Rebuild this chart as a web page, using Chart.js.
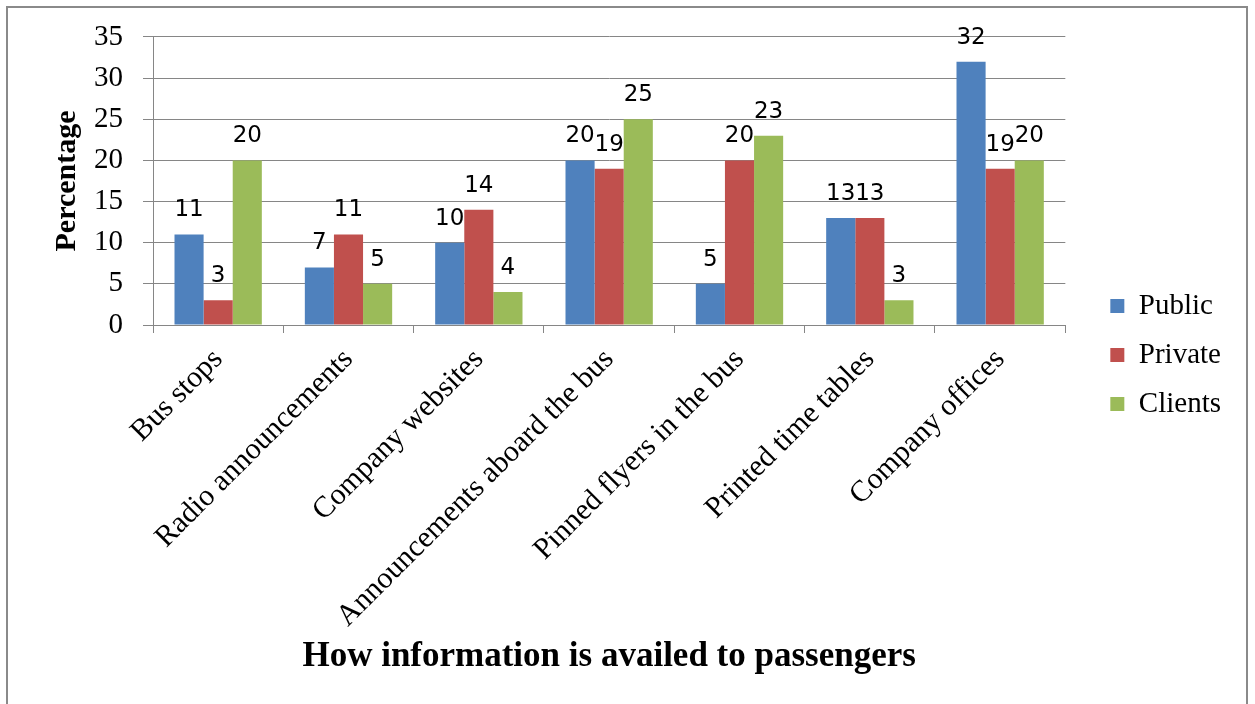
<!DOCTYPE html>
<html>
<head>
<meta charset="utf-8">
<script src="https://cdn.jsdelivr.net/npm/chart.js@4"></script>
<style>
    body { margin: 0; background: #fff; }
    #frame {
        position: absolute; left: 6px; top: 6px;
        width: 1238px; height: 720px;
        border: 2px solid #8a8a8a; background: #fff;
    }
    #chart-box { position: relative; width: 1238px; height: 690px; }
</style>
</head>
<body>
<div id="frame">
    <div id="chart-box"><canvas id="myChart"></canvas></div>
</div>
<script>
// categories and values
const categories = [
    'Bus stops',
    'Radio announcements',
    'Company websites',
    'Announcements aboard the bus',
    'Pinned flyers in the bus',
    'Printed time tables',
    'Company offices'
];
const publicValues = [11, 7, 10, 20, 5, 13, 32];
const privateValues = [3, 11, 14, 19, 20, 13, 19];
const clientValues = [20, 5, 4, 25, 23, 3, 20];
const yTicks = [0, 5, 10, 15, 20, 25, 30, 35];

const gridColor = '#868686';
const serif = "'Liberation Serif', 'Times New Roman', serif";

// values printed above each bar
const barLabels = {
    id: 'barLabels',
    afterDatasetsDraw(chart) {
        const ctx = chart.ctx;
        ctx.save();
        ctx.font = "23px 'DejaVu Sans', sans-serif";
        ctx.fillStyle = '#000';
        ctx.textAlign = 'center';
        ctx.textBaseline = 'alphabetic';
        chart.data.datasets.forEach((ds, i) => {
            const meta = chart.getDatasetMeta(i);
            meta.data.forEach((bar, j) => {
                ctx.fillText(ds.data[j], bar.x, bar.y - 18);
            });
        });
        ctx.restore();
    }
};

const data = {
    labels: categories,
    datasets: [
        { label: 'Public', data: publicValues, backgroundColor: '#4F81BD' },
        { label: 'Private', data: privateValues, backgroundColor: '#C0504D' },
        { label: 'Clients', data: clientValues, backgroundColor: '#9BBB59' }
    ]
};

const config = {
    type: 'bar',
    data: data,
    plugins: [barLabels],
    options: {
        responsive: true,
        maintainAspectRatio: false,
        animation: false,
        layout: { padding: { top: 7, left: 32, right: 15, bottom: 3 } },
        datasets: {
            bar: { categoryPercentage: 0.67, barPercentage: 1.0 }
        },
        plugins: {
            tooltip: { enabled: false },
            legend: {
                position: 'right',
                labels: {
                    boxWidth: 14,
                    boxHeight: 14,
                    padding: 20,
                    color: '#000',
                    font: { family: serif, size: 29 }
                }
            }
        },
        scales: {
            x: {
                grid: {
                    offset: true,
                    drawOnChartArea: false,
                    tickLength: 8,
                    color: gridColor
                },
                border: { color: gridColor },
                ticks: {
                    minRotation: 45,
                    maxRotation: 45,
                    padding: 9,
                    color: '#000',
                    font: { family: serif, size: 30 }
                },
                title: {
                    display: true,
                    text: 'How information is availed to passengers',
                    color: '#000',
                    padding: { top: 0, bottom: 17 },
                    font: { family: serif, size: 35, weight: 'bold' }
                },
                afterFit(scale) { scale.height = 370; }
            },
            y: {
                min: 0,
                max: 35,
                afterBuildTicks(axis) {
                    axis.ticks = yTicks.map(v => ({ value: v }));
                },
                grid: { color: gridColor, tickLength: 10 },
                border: { color: gridColor },
                ticks: {
                    padding: 20,
                    color: '#000',
                    font: { family: serif, size: 29, lineHeight: 0.62 }
                },
                title: {
                    display: true,
                    text: 'Percentage',
                    color: '#000',
                    padding: { top: 9, bottom: 0 },
                    font: { family: serif, size: 30, weight: 'bold' }
                },
                afterFit(scale) { scale.width = 113; }
            },
            // empty axis that only keeps a gap between the plot and the legend
            gap: {
                position: 'right',
                display: true,
                min: 0,
                max: 35,
                grid: { display: false },
                border: { display: false },
                ticks: { display: false },
                afterFit(scale) { scale.width = 25; }
            }
        }
    }
};

new Chart(document.getElementById('myChart'), config);
</script>
</body>
</html>
